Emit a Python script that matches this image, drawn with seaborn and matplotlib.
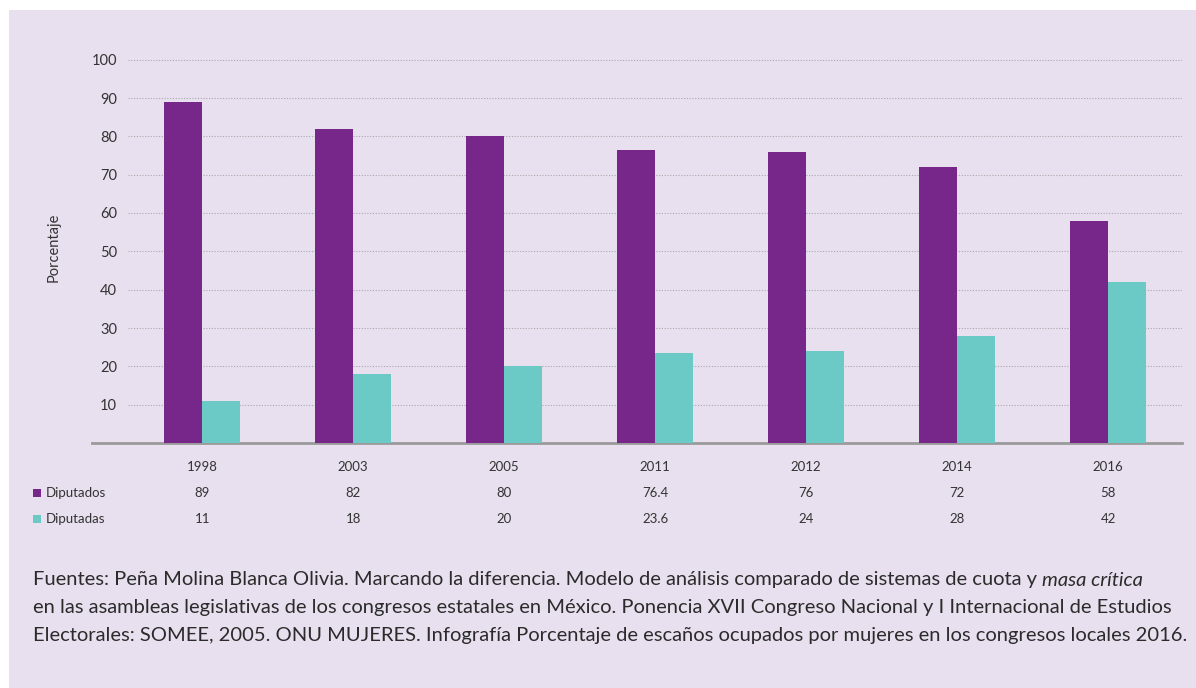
import numpy as np
import pandas as pd
import seaborn as sns
from matplotlib import pyplot as plt
from matplotlib.transforms import blended_transform_factory

years = ["1998", "2003", "2005", "2011", "2012", "2014", "2016"]
diputados = [89, 82, 80, 76.4, 76, 72, 58]
diputadas = [11, 18, 20, 23.6, 24, 28, 42]
series = ["Diputados", "Diputadas"]
yticks = [10, 20, 30, 40, 50, 60, 70, 80, 90, 100]

colors = {"Diputados": "#77268a", "Diputadas": "#6bc9c6"}
bg = "#e8e0ef"

df = pd.DataFrame({"Año": years * 2,
                   "Serie": ["Diputados"] * len(years) + ["Diputadas"] * len(years),
                   "Porcentaje": diputados + diputadas})

sns.set_style("white")
plt.rcParams["font.family"] = ["Lato", "DejaVu Sans"]

W, H = 1196, 688
fig = plt.figure(figsize=(W / 100, H / 100), dpi=100, facecolor="white")
fig.patches.append(plt.Rectangle((9 / W, 0), 1 - 9 / W, 1 - 10 / H, transform=fig.transFigure,
                                 facecolor=bg, edgecolor="none", zorder=-10))

ax_bottom = 1 - 443 / H
ax_top = 1 - 52 / H
ax = fig.add_axes([92 / W, ax_bottom, (1182 - 92) / W, ax_top - ax_bottom])
ax.set_facecolor("none")

sns.barplot(data=df, x="Año", y="Porcentaje", hue="Serie", palette=colors,
            width=0.5, saturation=1, linewidth=0, ax=ax, legend=False, zorder=3)

ax.set_xlim(-0.73, 6.49)
ax.set_ylim(0, 102)
ax.hlines(yticks, -0.49, 6.52, colors="#a8a8a8", linestyles=(0, (1, 1.5)), linewidth=0.8, zorder=1)
ax.set_yticks(yticks)
ax.tick_params(axis="y", length=0, pad=-18, labelsize=10.5, labelcolor="#333333")
ax.tick_params(axis="x", length=0, pad=13, labelsize=9.5, labelcolor="#333333")
ax.set_xlabel("")
ax.set_ylabel("Porcentaje", fontsize=10.5, color="#333333", labelpad=22)
for s in ["top", "right", "left"]:
    ax.spines[s].set_visible(False)
ax.spines["bottom"].set_color("#9a9a9a")
ax.spines["bottom"].set_linewidth(2)

# data table under the chart
tr = blended_transform_factory(ax.transData, fig.transFigure)
for i, y in enumerate(years):
    ax.text(i, 1 - 493 / H, f"{diputados[i]:g}", transform=tr, ha="center", va="center",
            fontsize=9.5, color="#333333")
    ax.text(i, 1 - 519 / H, f"{diputadas[i]:g}", transform=tr, ha="center", va="center",
            fontsize=9.5, color="#333333")
for row, name in zip([493, 519], series):
    fig.patches.append(plt.Rectangle((33 / W, 1 - (row + 4) / H), 8 / W, 8 / H,
                                     transform=fig.transFigure, facecolor=colors[name],
                                     edgecolor="none"))
    fig.text(46 / W, 1 - row / H, name, ha="left", va="center", fontsize=9.5, color="#333333")

# footnote
fs = 14.5
t1 = fig.text(33 / W, 1 - 580 / H,
              "Fuentes: Peña Molina Blanca Olivia. Marcando la diferencia. Modelo de análisis "
              "comparado de sistemas de cuota y ", ha="left", va="center", fontsize=fs, color="#2b2b2b")
ax.annotate("masa crítica", xy=(1, 0), xycoords=t1, ha="left", va="bottom",
            fontsize=fs, style="italic", color="#2b2b2b", annotation_clip=False)
fig.text(33 / W, 1 - 608 / H,
         "en las asambleas legislativas de los congresos estatales en México. Ponencia XVII "
         "Congreso Nacional y I Internacional de Estudios",
         ha="left", va="center", fontsize=fs, color="#2b2b2b")
fig.text(33 / W, 1 - 636 / H,
         "Electorales: SOMEE, 2005. ONU MUJERES. Infografía Porcentaje de escaños ocupados por "
         "mujeres en los congresos locales 2016.",
         ha="left", va="center", fontsize=fs, color="#2b2b2b")

fig.savefig("out.png", dpi=100, facecolor=fig.get_facecolor())
